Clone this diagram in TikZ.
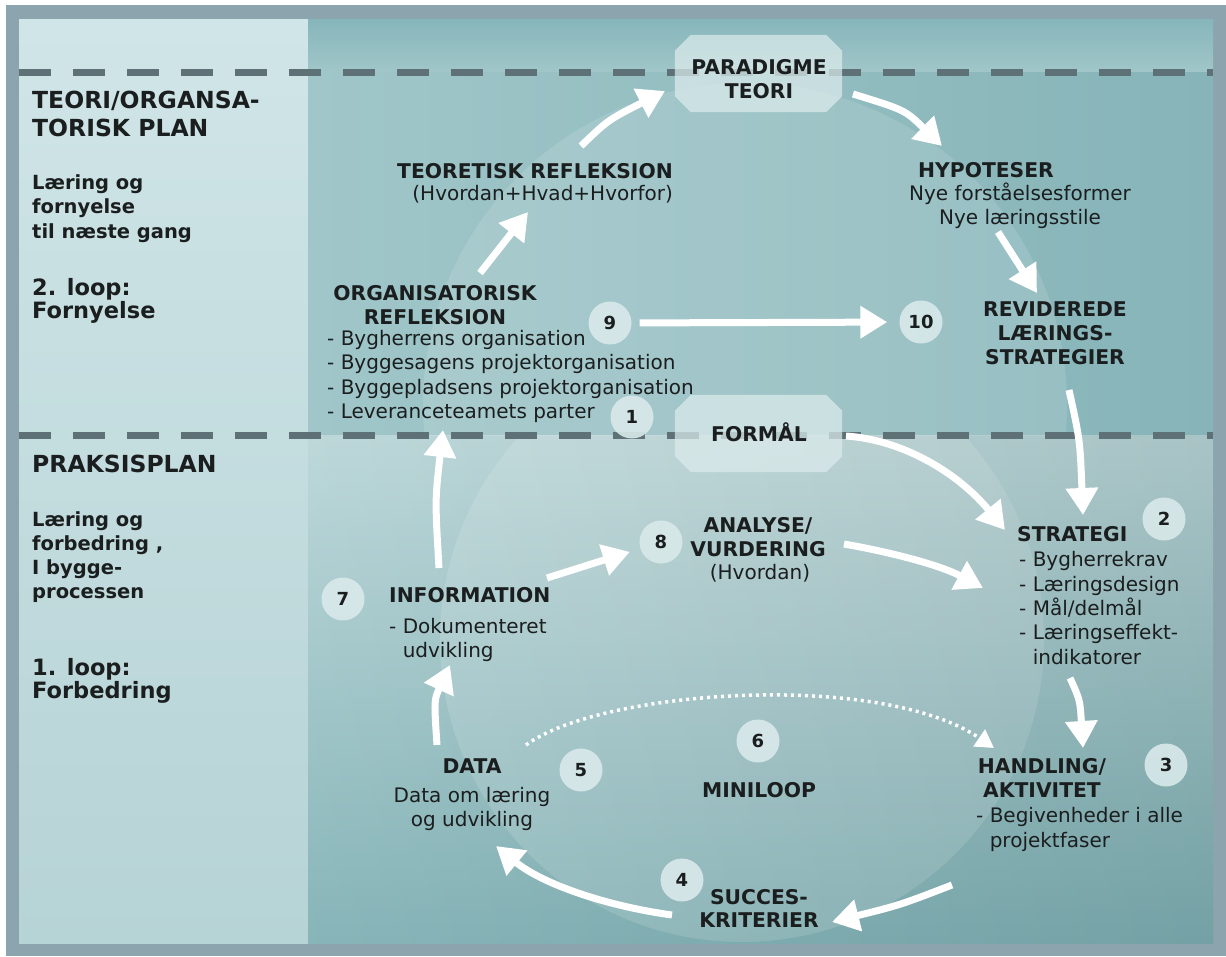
\documentclass[tikz,border=0pt]{standalone}
\usepackage{fontspec}
\setmainfont{DejaVu Sans}
\usetikzlibrary{arrows.meta}
\definecolor{framecol}{HTML}{8CA4AD}
\definecolor{leftTop}{HTML}{D0E5E7}
\definecolor{leftBot}{HTML}{B6D3D6}
\definecolor{stripTop}{HTML}{86B6BA}
\definecolor{stripBot}{HTML}{A0C6C9}
\definecolor{upL}{HTML}{A0C6C9}
\definecolor{upR}{HTML}{86B4B8}
\definecolor{loTop}{HTML}{B8D5D7}
\definecolor{loBot}{HTML}{7DAFB3}
\definecolor{dashcol}{HTML}{5E7177}
\definecolor{octfill}{HTML}{DCEBEC}
\definecolor{numfill}{HTML}{D9E9EA}
\definecolor{ink}{HTML}{1B1E1F}
\newcommand\fLhead{\fontsize{23.5}{28.5}\selectfont\bfseries}
\newcommand\fLsub{\fontsize{19.5}{24.5}\selectfont\bfseries}
\newcommand\fLloop{\fontsize{22.5}{23.5}\selectfont\bfseries}
\newcommand\fhd{\fontsize{20.3}{24}\selectfont\bfseries}
\newcommand\fbd{\fontsize{20}{24}\selectfont}
\newcommand\fnm{\fontsize{18}{18}\selectfont\bfseries}
\tikzset{
  lbl/.style={inner sep=0pt, text=ink},
  num/.style={circle, fill=numfill, fill opacity=.9, text opacity=1, minimum size=43pt, inner sep=0pt, font=\fnm, text=ink},
  octbox/.style={minimum width=167pt, minimum height=77pt, inner sep=0pt},
  flow/.style={draw=white, line width=7pt, -{Triangle[width=31pt,length=27pt]}},
  dotflow/.style={draw=white, line width=3.5pt, dash pattern=on 3pt off 4pt, -{Triangle[width=20pt,length=18pt]}},
  divider/.style={draw=dashcol, line width=7pt, dash pattern=on 32pt off 22pt}
}
\begin{document}
\begin{tikzpicture}[x=1pt,y=-1pt]
\useasboundingbox (0,0) rectangle (1226,956);
% frame and backgrounds
\fill[white] (0,0) rectangle (1226,956);
\fill[framecol] (6,5) rectangle (1226,956);
\shade[top color=leftTop, bottom color=leftBot] (19,19) rectangle (308,943);
\shade[top color=stripTop, bottom color=stripBot] (308,19) rectangle (1213,72);
\shade[left color=upL, right color=upR] (308,72) rectangle (1213,435);
\shade[top color=loTop, bottom color=loBot] (308,435) rectangle (1213,943);
\begin{scope}
  \clip (308,72) rectangle (1213,435);
  \fill[white, opacity=.12] (745,405) circle[radius=322];
\end{scope}
\begin{scope}
  \clip (308,435) rectangle (1213,943);
  \fill[white, opacity=.14] (742,640) circle[radius=302];
  \shade[left color=white, right color=black, opacity=.08] (308,435) rectangle (1213,943);
\end{scope}
% dividers
\draw[divider] (19,72.5) -- (1213,72.5);
\draw[divider] (19,435.5) -- (1213,435.5);
% octagons
\node[octbox] (para) at (758.5,73.5) {};
\node[octbox] (form) at (758.5,433.5) {};
\foreach \o in {para,form}{
  \fill[octfill, opacity=.72] ([xshift=16pt]\o.north west) -- ([xshift=-16pt]\o.north east)
    -- ([yshift=-16pt]\o.north east) -- ([yshift=16pt]\o.south east)
    -- ([xshift=-16pt]\o.south east) -- ([xshift=16pt]\o.south west)
    -- ([yshift=16pt]\o.south west) -- ([yshift=-16pt]\o.north west) -- cycle;
}
% left column (base anchor = baseline of the last line)
\node[lbl, font=\fLhead, align=left, anchor=base west] (lt1) at (32,136.5) {TEORI/ORGANSA-\\TORISK PLAN};
\node[lbl, font=\fLsub, align=left, anchor=base west] (lt2) at (32,238) {Læring og\\fornyelse\\til næste gang};
\node[lbl, font=\fLloop, align=left, anchor=base west] (lt3) at (32,318.5) {2. loop:\\Fornyelse};
\node[lbl, font=\fLhead, align=left, anchor=base west] (lb1) at (32,472) {PRAKSISPLAN};
\node[lbl, font=\fontsize{19.5}{23.7}\selectfont\bfseries, align=left, anchor=base west] (lb2) at (32,598) {Læring og\\forbedring ,\\I bygge-\\processen};
\node[lbl, font=\fLloop, align=left, anchor=base west] (lb3) at (32,698.5) {1. loop:\\Forbedring};
% main texts
\node[lbl, font=\fhd, anchor=base] (paratxt) at (759,74.5) {PARADIGME};
\node[lbl, font=\fhd, anchor=base] (paratxt2) at (759,98.5) {TEORI};
\node[lbl, font=\fhd, anchor=base] (formtxt) at (759,441.5) {FORMÅL};
\node[lbl, font=\fhd, anchor=base east] (teoh) at (673,178) {TEORETISK REFLEKSION};
\node[lbl, font=\fbd, anchor=base east] (teol) at (673,200) {(Hvordan+Hvad+Hvorfor)};
\node[lbl, font=\fhd, anchor=base west] (hyph) at (918,177) {HYPOTESER};
\node[lbl, font=\fbd, align=center, anchor=base] (hypl) at (1020,224) {Nye forståelsesformer\\Nye læringsstile};
\node[lbl, font=\fontsize{20.3}{24.5}\selectfont\bfseries, align=center, anchor=base] (orgh) at (435,324.5) {ORGANISATORISK\\REFLEKSION};
\node[lbl, font=\fontsize{20}{24.5}\selectfont, align=left, anchor=base west] (orgl) at (327,418.5) {- Bygherrens organisation\\- Byggesagens projektorganisation\\- Byggepladsens projektorganisation\\- Leveranceteamets parter};
\node[lbl, font=\fhd, align=center, anchor=base] (rev) at (1055,364.5) {REVIDEREDE\\LÆRINGS-\\STRATEGIER};
\node[lbl, font=\fhd, anchor=base west] (strh) at (1017,541.5) {STRATEGI};
\node[lbl, font=\fontsize{20}{24.3}\selectfont, align=left, anchor=base west] (strl) at (1019,664) {- Bygherrekrav\\- Læringsdesign\\- Mål/delmål\\- Læringseffekt-\\\hphantom{- }indikatorer};
\node[lbl, font=\fhd, align=center, anchor=base] (anah) at (758,556.5) {ANALYSE/\\VURDERING};
\node[lbl, font=\fbd, anchor=base] (anal) at (760,579.5) {(Hvordan)};
\node[lbl, font=\fhd, anchor=base west] (infh) at (389,602.5) {INFORMATION};
\node[lbl, font=\fbd, align=left, anchor=base west] (infl) at (389,657.5) {- Dokumenteret\\\hphantom{- }udvikling};
\node[lbl, font=\fhd, anchor=base] (dath) at (472,773.5) {DATA};
\node[lbl, font=\fbd, align=center, anchor=base] (datl) at (472,826.5) {Data om læring\\og udvikling};
\node[lbl, font=\fhd, anchor=base] (mini) at (759,797.5) {MINILOOP};
\node[lbl, font=\fhd, align=center, anchor=base] (hanh) at (1042,797.5) {HANDLING/\\AKTIVITET};
\node[lbl, font=\fontsize{20}{25}\selectfont, align=left, anchor=base west] (hanl) at (976,847.5) {- Begivenheder i alle\\\hphantom{- }projektfaser};
\node[lbl, font=\fontsize{20.3}{23}\selectfont\bfseries, align=center, anchor=base] (suc) at (759,927.5) {SUCCES-\\KRITERIER};
% numbers
\node[num] (n1) at (632,417) {1};
\node[num] (n2) at (1164,519) {2};
\node[num] (n3) at (1166,765) {3};
\node[num] (n4) at (682,880) {4};
\node[num] (n5) at (581,770) {5};
\node[num] (n6) at (758,741) {6};
\node[num] (n7) at (343,599) {7};
\node[num] (n8) at (661,542) {8};
\node[num] (n9) at (610,323) {9};
\node[num] (n10) at (921,322) {10};
% arrow end points
\coordinate (a1s) at (480,273); \coordinate (a1e) at (528,212);
\coordinate (a2s) at (581,146); \coordinate (a2e) at (665,91);
\coordinate (a3s) at (853,94);  \coordinate (a3e) at (942,146);
\coordinate (a4s) at (998,232); \coordinate (a4e) at (1037,293);
\coordinate (a6s) at (1069,390); \coordinate (a6e) at (1083,515);
\coordinate (a7s) at (846,436); \coordinate (a7e) at (1005,530);
\coordinate (a8s) at (844,544); \coordinate (a8e) at (983,588);
\coordinate (a9s) at (1070,678); \coordinate (a9e) at (1083,748);
\coordinate (a10s) at (952,885); \coordinate (a10e) at (832,922);
\coordinate (a11s) at (672,915); \coordinate (a11e) at (496,846);
\coordinate (a12s) at (437,745); \coordinate (a12e) at (450,665);
\coordinate (a13s) at (439,568); \coordinate (a13e) at (443,430);
\coordinate (a14s) at (547,578);
\coordinate (d1) at (526,745); \coordinate (d2) at (994,748);
% arrows
\draw[flow] (a1s) -- (a1e);
\draw[flow] (a2s) .. controls (608,120) .. (a2e);
\draw[flow] (a3s) .. controls (905,110) .. (a3e);
\draw[flow] (a4s) -- (a4e);
\draw[flow, shorten <=8pt, shorten >=12pt] (n9) -- (n10);
\draw[flow] (a6s) .. controls (1080,440) .. (a6e);
\draw[flow] (a7s) .. controls (905,440) and (960,475) .. (a7e);
\draw[flow] (a8s) .. controls (890,552) and (940,565) .. (a8e);
\draw[flow] (a9s) .. controls (1080,700) .. (a9e);
\draw[flow] (a10s) .. controls (900,905) .. (a10e);
\draw[flow] (a11s) .. controls (600,905) and (540,882) .. (a11e);
\draw[flow] (a12s) .. controls (434,700) .. (a12e);
\draw[flow] (a13s) .. controls (435,500) .. (a13e);
\draw[flow, shorten >=11pt] (a14s) -- (n8);
\draw[dotflow] (d1) .. controls (600,690) and (880,670) .. (d2);
\end{tikzpicture}
\end{document}
